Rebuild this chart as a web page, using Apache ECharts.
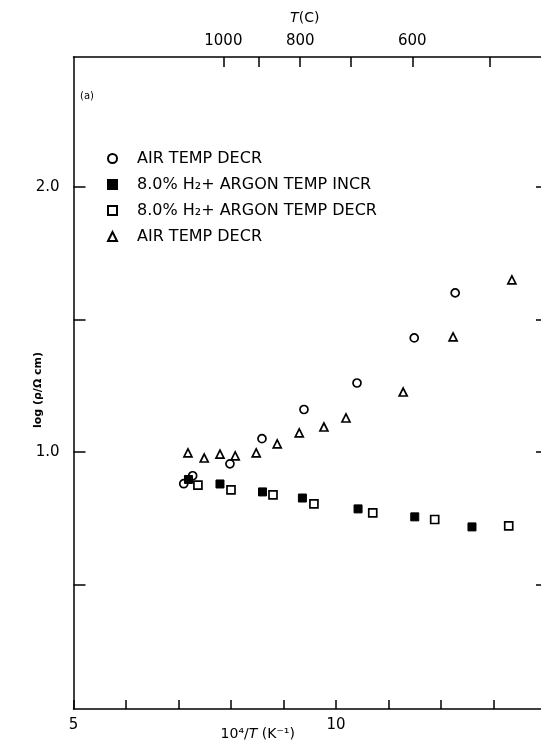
<!DOCTYPE html>
<html>
<head>
<meta charset="utf-8">
<script src="https://cdn.jsdelivr.net/npm/echarts@6/dist/echarts.min.js"></script>
<style>
html,body{margin:0;padding:0;background:#fff;overflow:hidden;}
#chart{width:541px;height:751px;}
</style>
</head>
<body>
<div id="chart"></div>
<script>
// ---- data ----
const airDecrX = [7.10, 7.27, 7.98, 8.59, 9.39, 10.40, 11.49, 12.27];
const airDecrY = [0.88, 0.91, 0.955, 1.05, 1.16, 1.26, 1.43, 1.60];
const h2IncrX = [7.19, 7.79, 8.60, 9.36, 10.42, 11.50, 12.59];
const h2IncrY = [0.896, 0.879, 0.849, 0.826, 0.785, 0.755, 0.717];
const h2DecrX = [7.37, 8.00, 8.80, 9.58, 10.70, 11.88, 13.29];
const h2DecrY = [0.875, 0.857, 0.838, 0.804, 0.770, 0.745, 0.721];
const air2X = [7.18, 7.49, 7.79, 8.08, 8.48, 8.88, 9.30, 9.77, 10.19, 11.28, 12.23, 13.35];
const air2Y = [0.996, 0.977, 0.992, 0.985, 0.996, 1.030, 1.072, 1.094, 1.128, 1.226, 1.434, 1.649];

const seriesNames = ['airDecr', 'h2Incr', 'h2Decr', 'airDecr2'];
const legendLabels = ['AIR TEMP DECR', '8.0% H\u2082+ ARGON TEMP INCR', '8.0% H\u2082+ ARGON TEMP DECR', 'AIR TEMP DECR'];

// tick labels
const xLabelValues = [5, 10];
const yTickValues = [0.5, 1.0, 1.5, 2.0];
const yLabelValues = [1.0, 2.0];
const tempTicks = [1000, 900, 800, 700, 600, 500];
const tempLabels = [1000, 800, 600];

const toInvT = t => 1e4 / (t + 273.15);
const pair = (xs, ys) => xs.map((x, i) => [x, ys[i]]);

const FONT = 'DejaVu Sans';
const axisLine = {show: true, lineStyle: {color: '#000', width: 1.5}};
const tickStyle = {color: '#000', width: 1.5};
const markStyle = {color: '#fff', borderColor: '#000', borderWidth: 1.7, opacity: 1};

const chart = echarts.init(document.getElementById('chart'));
chart.setOption({
  animation: false,
  backgroundColor: '#fff',
  grid: {left: 73.5, width: 472.5, top: 57, height: 652, containLabel: false, outerBoundsMode: 'none'},
  legend: {
    orient: 'vertical', left: 107, top: 150, padding: 0,
    itemWidth: 9, itemHeight: 9, itemGap: 9, selectedMode: false,
    data: seriesNames,
    formatter: name => legendLabels[seriesNames.indexOf(name)],
    textStyle: {fontFamily: FONT, fontSize: 16, lineHeight: 17, color: '#000', padding: [0, 0, 0, 15]}
  },
  xAxis: [{
    type: 'value', position: 'bottom', min: 5, max: 14, interval: 1,
    axisLine: axisLine,
    axisTick: {inside: true, length: 9, lineStyle: tickStyle},
    axisLabel: {customValues: xLabelValues, margin: 9, fontFamily: FONT, fontSize: 15, color: '#000'},
    splitLine: {show: false},
    name: '{a|10\u2074/}{i|T}{a| (K\u207B\u00B9)}',
    nameLocation: 'middle', nameGap: 18, nameMoveOverlap: false,
    nameTextStyle: {padding: [0, 104, 0, 0], rich: {
      a: {fontFamily: FONT, fontSize: 14, color: '#000'},
      i: {fontFamily: FONT, fontSize: 14, fontStyle: 'italic', color: '#000'}
    }}
  }, {
    type: 'value', position: 'top', min: 5, max: 14,
    axisLine: axisLine,
    axisTick: {inside: true, length: 10, lineStyle: tickStyle, customValues: tempTicks.map(toInvT)},
    axisLabel: {customValues: tempLabels.map(toInvT), margin: 8, fontFamily: FONT, fontSize: 15, color: '#000',
      formatter: v => String(Math.round(1e4 / v - 273.15))},
    splitLine: {show: false},
    name: '{i|T}{a|(C)}',
    nameLocation: 'middle', nameGap: 32, nameMoveOverlap: false,
    nameTextStyle: {padding: [0, 10, 0, 0], rich: {
      a: {fontFamily: FONT, fontSize: 14, color: '#000'},
      i: {fontFamily: FONT, fontSize: 14, fontStyle: 'italic', color: '#000'}
    }}
  }],
  yAxis: [{
    type: 'value', position: 'left', min: 0.03, max: 2.49,
    axisLine: axisLine,
    axisTick: {inside: true, length: 12, lineStyle: tickStyle, customValues: yTickValues},
    axisLabel: {customValues: yLabelValues, margin: 14, fontFamily: FONT, fontSize: 15, color: '#000',
      formatter: v => v.toFixed(1)},
    splitLine: {show: false},
    name: 'log (\u03C1/\u03A9 cm)', nameLocation: 'middle', nameGap: 30, nameRotate: 90, nameMoveOverlap: false,
    nameTextStyle: {fontFamily: FONT, fontSize: 11, fontWeight: 'bold', color: '#000', padding: [0, 14, 0, 0]}
  }, {
    type: 'value', position: 'right', min: 0.03, max: 2.49,
    axisLine: axisLine,
    axisTick: {inside: true, length: 10, lineStyle: tickStyle, customValues: yTickValues},
    axisLabel: {show: false},
    splitLine: {show: false}
  }],
  graphic: [{
    type: 'text', left: 80, top: 91,
    style: {text: '(a)', fontFamily: FONT, fontSize: 10, fill: '#000'}
  }],
  series: [{
    name: seriesNames[0], type: 'scatter', symbol: 'circle', symbolSize: 8,
    itemStyle: markStyle,
    data: pair(airDecrX, airDecrY)
  }, {
    name: seriesNames[1], type: 'scatter', symbol: 'rect', symbolSize: 8,
    itemStyle: {color: '#000', borderColor: '#000', borderWidth: 1, opacity: 1},
    data: pair(h2IncrX, h2IncrY)
  }, {
    name: seriesNames[2], type: 'scatter', symbol: 'rect', symbolSize: 8,
    itemStyle: markStyle,
    data: pair(h2DecrX, h2DecrY)
  }, {
    name: seriesNames[3], type: 'scatter', symbol: 'triangle', symbolSize: 8,
    itemStyle: markStyle,
    data: pair(air2X, air2Y)
  }]
});
</script>
</body>
</html>
